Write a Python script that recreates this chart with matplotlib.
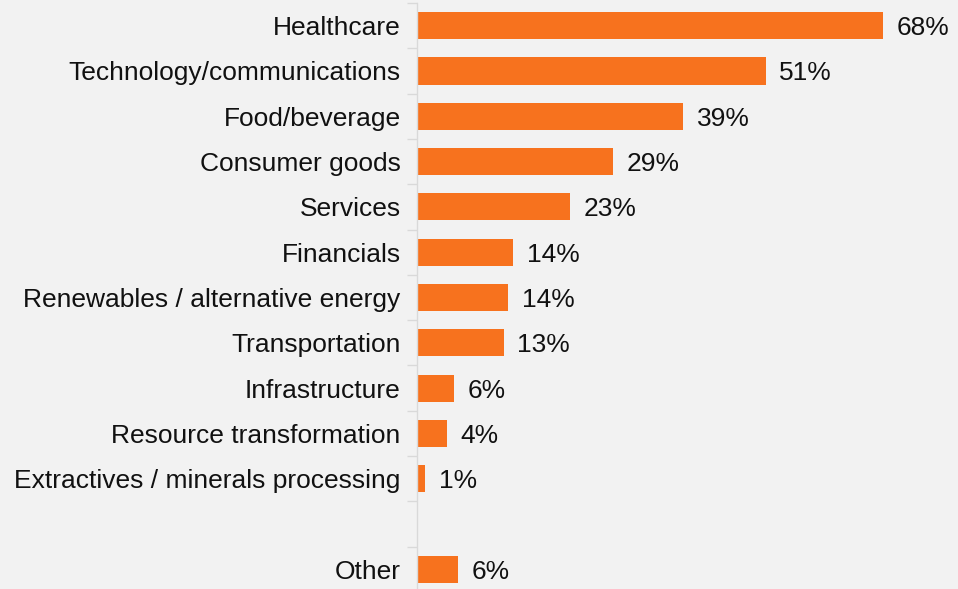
import numpy as np
import matplotlib
matplotlib.use("Agg")
import matplotlib.pyplot as plt

categories = ["Healthcare", "Technology/communications", "Food/beverage",
              "Consumer goods", "Services", "Financials",
              "Renewables / alternative energy", "Transportation",
              "Infrastructure", "Resource transformation",
              "Extractives / minerals processing", "", "Other"]
# bar lengths as measured, labels as printed
values = [68, 50.9, 38.9, 28.7, 22.4, 14.1, 13.4, 12.7, 5.5, 4.4, 1.3, None, 6.0]
labels = ["68%", "51%", "39%", "29%", "23%", "14%", "14%", "13%", "6%", "4%", "1%", "", "6%"]

BG = "#f2f2f2"
ORANGE = "#f7721e"
GRID = "#d9d9d9"

plt.rcParams["font.family"] = ["Liberation Sans", "DejaVu Sans"]

fig = plt.figure(figsize=(9.58, 5.89), dpi=100, facecolor=BG)
W, H = 958, 589
ax = fig.add_axes([416.5 / W, -3 / H, (958 - 416.5) / W, 589 / H])
ax.set_facecolor(BG)

ypos = np.arange(len(categories))
for y, v, lab in zip(ypos, values, labels):
    if v is None:
        continue
    ax.barh(y, v, height=0.6, color=ORANGE, zorder=2)
    ax.text(v + 2.0, y, lab, va="center_baseline", ha="left", fontsize=19, color="#111111")

ax.set_xlim(0, (958 - 416.5) / 6.86)
ax.set_ylim(len(categories) - 0.5, -0.5)

ax.set_yticks(ypos)
ax.set_yticklabels(categories, fontsize=19, color="#111111")
ax.tick_params(axis="y", which="major", length=0, pad=11.5)
ax.set_yticks(np.arange(-0.5, len(categories), 1), minor=True)
ax.tick_params(axis="y", which="minor", length=7, color=GRID, width=1)
ax.set_xticks([])

for s in ["top", "right", "bottom"]:
    ax.spines[s].set_visible(False)
ax.spines["left"].set_color(GRID)
ax.spines["left"].set_linewidth(1)

fig.savefig("out.png", dpi=100, facecolor=BG)
